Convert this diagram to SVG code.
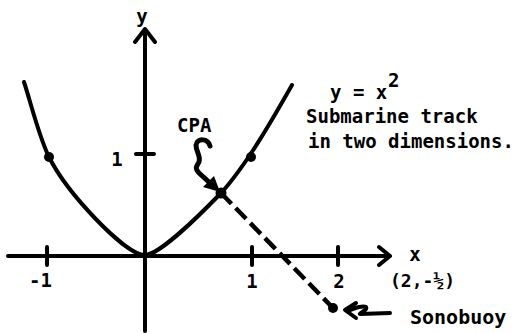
<svg xmlns="http://www.w3.org/2000/svg" width="515" height="333" viewBox="0 0 515 333">
<style>
.ln{fill:none;stroke:#000;stroke-width:4;stroke-linecap:round;stroke-linejoin:round}
.dash{fill:none;stroke:#000;stroke-width:4.5;stroke-dasharray:15 6}
.dot{fill:#000}
.t{font-family:"DejaVu Sans Mono","Liberation Mono",monospace;font-weight:bold;font-size:19px;fill:#000}
</style>
<rect width="515" height="333" fill="#fff"/>
<g id="axes">
<path class="ln" d="M8,256 L390,256 M379,247 L390,256 L379,265"/>
<path class="ln" d="M145,331 L145,29 M135,42 L145,29 L155,42"/>
<path class="ln" d="M47,247 V265 M252,247 V265 M338,247 V265 M136,154 H154"/>
<text class="t" x="142" y="23" text-anchor="middle">y</text>
<text class="t" x="415" y="261" text-anchor="middle">x</text>
<text class="t" x="52" y="287" text-anchor="end">-1</text>
<text class="t" x="252" y="288" text-anchor="middle">1</text>
<text class="t" x="339" y="288" text-anchor="middle">2</text>
<text class="t" x="117" y="166" text-anchor="middle">1</text>
<text class="t" x="390" y="287" style="font-size:18px">(2,-½)</text>
</g>
<g id="parabola">
<path class="ln" d="M24,82 C30,100 39,137 49,157 C67,193 125,255 145,255 C158,255 195,220 221,193 C246,166 275,115 292,85"/>
<circle class="dot" cx="49" cy="157" r="5"/>
<circle class="dot" cx="251" cy="157" r="5"/>
<text class="t" x="330" y="99">y = x</text>
<text class="t" x="388" y="87">2</text>
<text class="t" x="306" y="123">Submarine track</text>
<text class="t" x="308" y="148">in two dimensions.</text>
</g>
<g id="cpa">
<circle class="dot" cx="221" cy="193" r="5.5"/>
<text class="t" x="177" y="132">CPA</text>
</g>
<g id="sonobuoy">
<circle class="dot" cx="333" cy="308" r="5"/>
<text class="t" x="410" y="324" style="font-size:20px">Sonobuoy</text>
</g>
<g id="connectors">
<path class="dash" d="M221,193 L333,308"/>
<path class="ln" style="stroke-width:5" d="M210,146 C208,138 197,138 196,145 C196,152 201,156 199,162 C197,166 194,168 199,173 L210,183"/>
<path class="dot" d="M220,192 L203,187 L214,176 Z"/>
<path class="ln" d="M356,303 L345,310 L356,318 M350,310 C356,308 362,305 366,307 C368,310 358,314 360,314 L390,313"/>
</g>
</svg>
